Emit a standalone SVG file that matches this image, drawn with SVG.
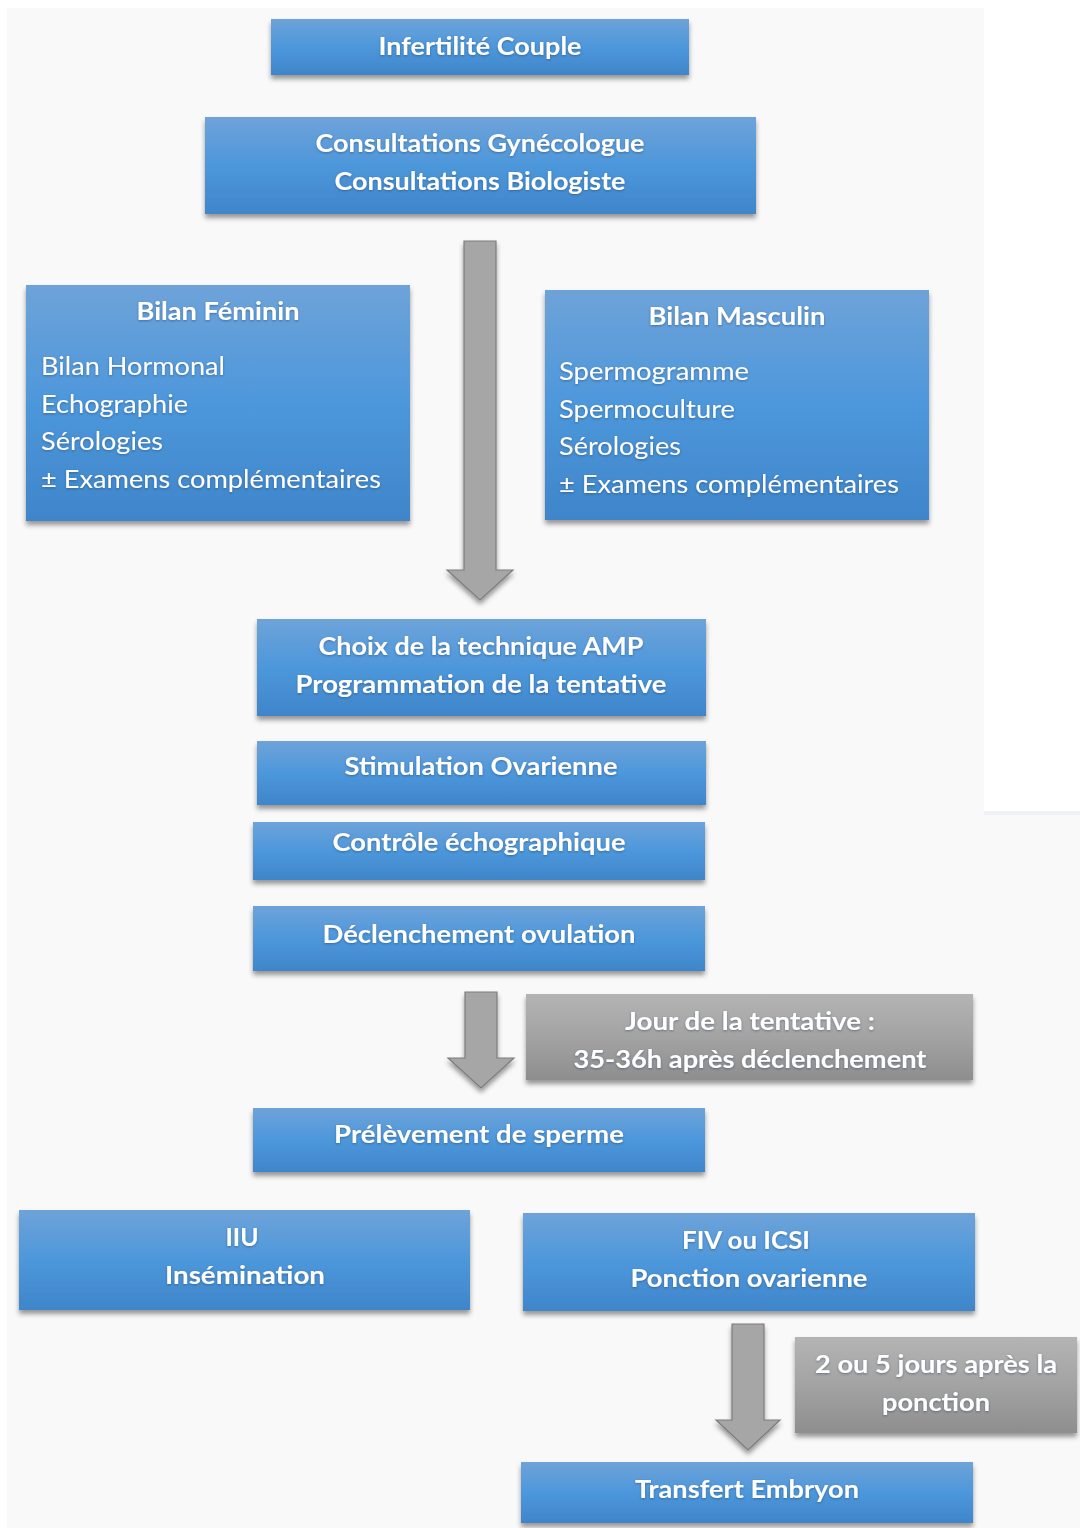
<svg xmlns="http://www.w3.org/2000/svg" width="1080" height="1528" viewBox="0 0 1080 1528">
<defs>
<linearGradient id="blue" x1="0" y1="0" x2="0" y2="1">
<stop offset="0" stop-color="#6ea3d9"/>
<stop offset="0.5" stop-color="#4d97db"/>
<stop offset="1" stop-color="#3f85ca"/>
</linearGradient>
<linearGradient id="grey" x1="0" y1="0" x2="0" y2="1">
<stop offset="0" stop-color="#b4b4b4"/>
<stop offset="0.5" stop-color="#a3a3a3"/>
<stop offset="1" stop-color="#8e8e8e"/>
</linearGradient>
<filter id="sh" x="-5%" y="-10%" width="110%" height="130%">
<feDropShadow dx="0" dy="4" stdDeviation="2.5" flood-color="#000" flood-opacity="0.4"/>
</filter>
<filter id="tsh" x="-5%" y="-20%" width="110%" height="140%">
<feDropShadow dx="0" dy="1" stdDeviation="0.8" flood-color="#1a3a60" flood-opacity="0.5"/>
</filter>
</defs>
<style>
.box{fill:url(#blue);filter:url(#sh)}
.gbox{fill:url(#grey);filter:url(#sh)}
.t{font-family:Lato,"Open Sans",sans-serif;font-weight:bold;font-size:25px;fill:#fff;text-anchor:middle;filter:url(#tsh)}
.b{font-family:Lato,"Open Sans",sans-serif;font-size:25px;fill:#fff;filter:url(#tsh)}
.arr{fill:#a6a6a6;stroke:#7c7c7c;stroke-width:1.2;filter:url(#sh)}
</style>
<rect x="0" y="0" width="1080" height="1528" fill="#ffffff"/>
<rect x="7" y="8" width="977" height="804" fill="#f9f9f9"/>
<rect x="7" y="812" width="1073" height="716" fill="#f9f9f9"/>
<rect x="984" y="811" width="96" height="4" fill="#eef2f6"/>

<g id="connectors">
<path class="arr" d="M464,241 H496 V570 H513 L480,600 L447,570 H464 Z"/>
<path class="arr" d="M465,992 H497 V1058 H514 L481,1088 L448,1058 H465 Z"/>
<path class="arr" d="M732,1324 H764 V1420 H780 L748,1450 L716,1420 H732 Z"/>
</g>

<g id="n-infertilite">
<rect class="box" x="271" y="19" width="418" height="56"/>
<text class="t" x="480" y="55" textLength="203" lengthAdjust="spacingAndGlyphs">Infertilité Couple</text>
</g>
<g id="n-consultations">
<rect class="box" x="205" y="117" width="551" height="97"/>
<text class="t" x="480" y="152" textLength="329" lengthAdjust="spacingAndGlyphs">Consultations Gynécologue</text>
<text class="t" x="480" y="190" textLength="291" lengthAdjust="spacingAndGlyphs">Consultations Biologiste</text>
</g>
<g id="n-bilan-feminin">
<rect class="box" x="26" y="285" width="384" height="236"/>
<text class="t" x="218" y="320" textLength="163" lengthAdjust="spacingAndGlyphs">Bilan Féminin</text>
<text class="b" x="41" y="375" textLength="184" lengthAdjust="spacingAndGlyphs">Bilan Hormonal</text>
<text class="b" x="41" y="413" textLength="147" lengthAdjust="spacingAndGlyphs">Echographie</text>
<text class="b" x="41" y="450" textLength="122" lengthAdjust="spacingAndGlyphs">Sérologies</text>
<text class="b" x="41" y="488" textLength="340" lengthAdjust="spacingAndGlyphs">± Examens complémentaires</text>
</g>
<g id="n-bilan-masculin">
<rect class="box" x="545" y="290" width="384" height="230"/>
<text class="t" x="737" y="325" textLength="177" lengthAdjust="spacingAndGlyphs">Bilan Masculin</text>
<text class="b" x="559" y="380" textLength="190" lengthAdjust="spacingAndGlyphs">Spermogramme</text>
<text class="b" x="559" y="418" textLength="176" lengthAdjust="spacingAndGlyphs">Spermoculture</text>
<text class="b" x="559" y="455" textLength="122" lengthAdjust="spacingAndGlyphs">Sérologies</text>
<text class="b" x="559" y="493" textLength="340" lengthAdjust="spacingAndGlyphs">± Examens complémentaires</text>
</g>
<g id="n-choix">
<rect class="box" x="257" y="619" width="449" height="97"/>
<text class="t" x="481" y="655" textLength="325" lengthAdjust="spacingAndGlyphs">Choix de la technique AMP</text>
<text class="t" x="481" y="693" textLength="371" lengthAdjust="spacingAndGlyphs">Programmation de la tentative</text>
</g>
<g id="n-stimulation">
<rect class="box" x="257" y="741" width="449" height="64"/>
<text class="t" x="481" y="775" textLength="273" lengthAdjust="spacingAndGlyphs">Stimulation Ovarienne</text>
</g>
<g id="n-controle">
<rect class="box" x="253" y="822" width="452" height="58"/>
<text class="t" x="479" y="851" textLength="293" lengthAdjust="spacingAndGlyphs">Contrôle échographique</text>
</g>
<g id="n-declenchement">
<rect class="box" x="253" y="906" width="452" height="65"/>
<text class="t" x="479" y="943" textLength="313" lengthAdjust="spacingAndGlyphs">Déclenchement ovulation</text>
</g>
<g id="n-jour">
<rect class="gbox" x="526" y="994" width="447" height="86"/>
<text class="t" x="750" y="1030" textLength="250" lengthAdjust="spacingAndGlyphs">Jour de la tentative :</text>
<text class="t" x="750" y="1068" textLength="353" lengthAdjust="spacingAndGlyphs">35-36h après déclenchement</text>
</g>
<g id="n-prelevement">
<rect class="box" x="253" y="1108" width="452" height="64"/>
<text class="t" x="479" y="1143" textLength="290" lengthAdjust="spacingAndGlyphs">Prélèvement de sperme</text>
</g>
<g id="n-iiu">
<rect class="box" x="19" y="1210" width="451" height="100"/>
<text class="t" x="242" y="1246" textLength="33" lengthAdjust="spacingAndGlyphs">IIU</text>
<text class="t" x="245" y="1284" textLength="160" lengthAdjust="spacingAndGlyphs">Insémination</text>
</g>
<g id="n-fiv">
<rect class="box" x="523" y="1213" width="452" height="98"/>
<text class="t" x="746" y="1249" textLength="128" lengthAdjust="spacingAndGlyphs">FIV ou ICSI</text>
<text class="t" x="749" y="1287" textLength="237" lengthAdjust="spacingAndGlyphs">Ponction ovarienne</text>
</g>
<g id="n-jours">
<rect class="gbox" x="795" y="1337" width="282" height="96"/>
<text class="t" x="936" y="1373" textLength="242" lengthAdjust="spacingAndGlyphs">2 ou 5 jours après la</text>
<text class="t" x="936" y="1411" textLength="108" lengthAdjust="spacingAndGlyphs">ponction</text>
</g>
<g id="n-transfert">
<rect class="box" x="521" y="1462" width="452" height="61"/>
<text class="t" x="747" y="1498" textLength="224" lengthAdjust="spacingAndGlyphs">Transfert Embryon</text>
</g>
</svg>
